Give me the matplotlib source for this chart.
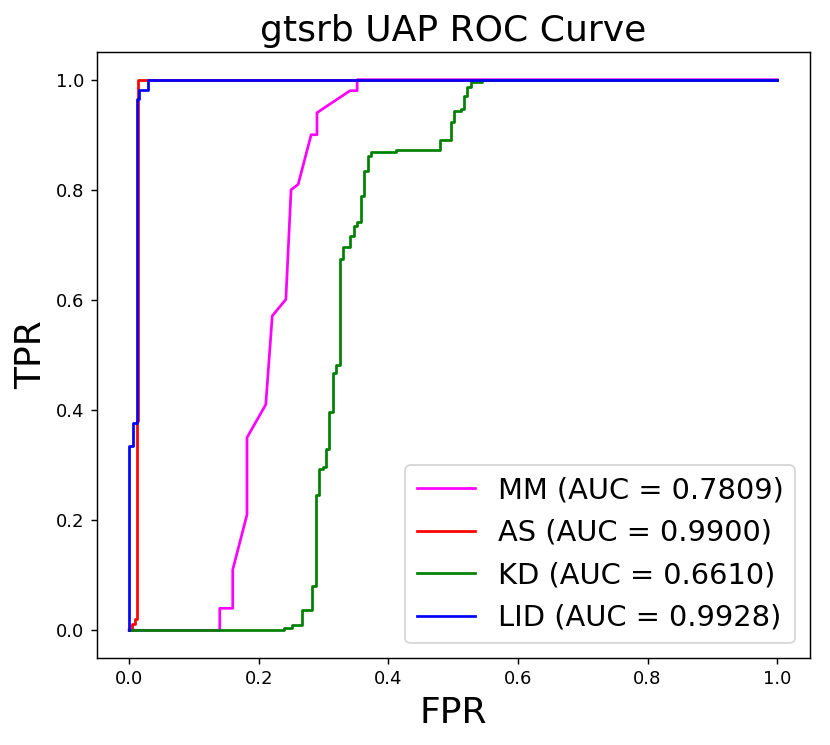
import matplotlib
matplotlib.use("Agg")
import matplotlib.pyplot as plt

# ROC points
mm_fpr = [0.0, 0.140, 0.140, 0.160, 0.160, 0.182, 0.182, 0.211, 0.221, 0.242, 0.250,
          0.261, 0.281, 0.290, 0.290, 0.341, 0.352, 0.352, 1.0]
mm_tpr = [0.0, 0.0, 0.040, 0.040, 0.110, 0.210, 0.350, 0.410, 0.571, 0.601, 0.800,
          0.810, 0.900, 0.900, 0.940, 0.980, 0.980, 1.0, 1.0]

as_fpr = [0.0, 0.005, 0.005, 0.009, 0.009, 0.012, 0.012, 0.014, 0.014, 0.026, 1.0]
as_tpr = [0.0, 0.0, 0.011, 0.011, 0.020, 0.020, 0.380, 0.380, 1.0, 1.0, 1.0]

kd_fpr = [0.0, 0.239, 0.239, 0.251, 0.251, 0.267, 0.267, 0.283, 0.283, 0.289, 0.289,
          0.293, 0.293, 0.300, 0.300, 0.304, 0.304, 0.309, 0.309, 0.315, 0.315,
          0.320, 0.320, 0.326, 0.326, 0.330, 0.330, 0.341, 0.341, 0.347, 0.347,
          0.352, 0.352, 0.358, 0.358, 0.363, 0.363, 0.368, 0.368, 0.373, 0.373,
          0.412, 0.412, 0.480, 0.480, 0.497, 0.497, 0.502, 0.502, 0.512, 0.512,
          0.517, 0.517, 0.522, 0.522, 0.527, 0.527, 0.545, 0.545, 1.0]
kd_tpr = [0.0, 0.0, 0.005, 0.005, 0.009, 0.009, 0.037, 0.037, 0.080, 0.080, 0.245,
          0.245, 0.293, 0.293, 0.297, 0.297, 0.330, 0.330, 0.397, 0.397, 0.467,
          0.467, 0.482, 0.482, 0.674, 0.674, 0.697, 0.697, 0.717, 0.717, 0.735,
          0.735, 0.741, 0.741, 0.788, 0.788, 0.835, 0.835, 0.862, 0.862, 0.868,
          0.868, 0.873, 0.873, 0.891, 0.891, 0.924, 0.924, 0.944, 0.944, 0.947,
          0.947, 0.971, 0.971, 0.986, 0.986, 0.995, 0.995, 1.0, 1.0]

lid_fpr = [0.0, 0.0, 0.006, 0.006, 0.012, 0.012, 0.016, 0.016, 0.030, 0.030, 1.0]
lid_tpr = [0.0, 0.335, 0.335, 0.377, 0.377, 0.965, 0.965, 0.982, 0.982, 1.0, 1.0]

fig = plt.figure(figsize=(830 / 130, 745 / 130), dpi=130)
ax = fig.add_axes([0.1164, 0.117, 0.859, 0.813])

ax.plot(mm_fpr, mm_tpr, color="magenta", label="MM (AUC = 0.7809)")
ax.plot(as_fpr, as_tpr, color="red", label="AS (AUC = 0.9900)")
ax.plot(kd_fpr, kd_tpr, color="green", label="KD (AUC = 0.6610)")
ax.plot(lid_fpr, lid_tpr, color="blue", label="LID (AUC = 0.9928)")

ax.set_title("gtsrb UAP ROC Curve", fontsize=20)
ax.set_xlabel("FPR", fontsize=20)
ax.set_ylabel("TPR", fontsize=20)
ax.legend(loc="lower right", fontsize=16)

fig.savefig("out.png", dpi=130)
